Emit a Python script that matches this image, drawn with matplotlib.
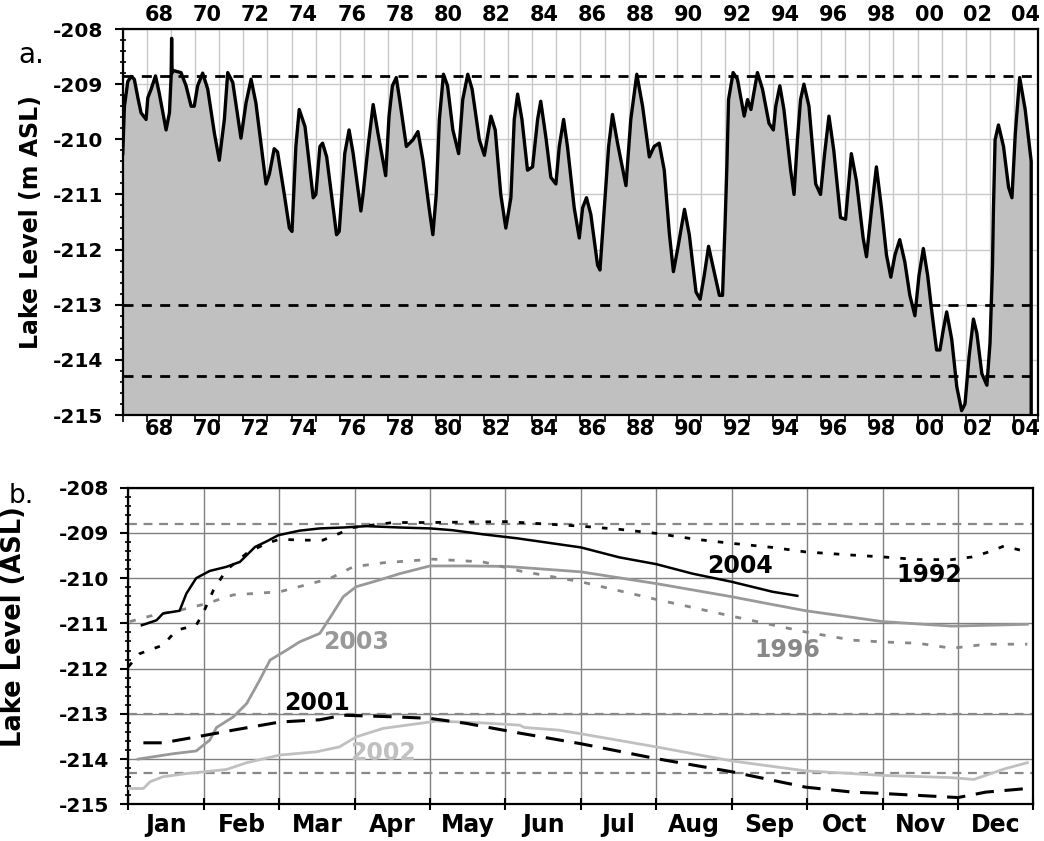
import matplotlib.pyplot as plt
import numpy as np

plt.rcParams['font.family'] = ['DejaVu Sans']
plt.rcParams['font.weight'] = 'bold'
plt.rcParams['axes.labelweight'] = 'bold'
plt.rcParams['axes.unicode_minus'] = False

# ---- panel a: lake level, decimal year vs m ASL
years = [1966.99, 1967.06, 1967.20, 1967.34, 1967.47, 1967.62, 1967.75, 1967.96, 1968.03, 1968.17,
         1968.35, 1968.50, 1968.79, 1968.93, 1969.00, 1969.02, 1969.04, 1969.06, 1969.41, 1969.62,
         1969.83, 1969.96, 1970.10, 1970.31, 1970.52, 1970.80, 1971.00, 1971.21, 1971.35, 1971.56,
         1971.90, 1972.11, 1972.32, 1972.52, 1972.94, 1973.08, 1973.28, 1973.42, 1973.70, 1973.91,
         1974.02, 1974.18, 1974.32, 1974.56, 1974.90, 1975.01, 1975.18, 1975.29, 1975.46, 1975.87,
         1975.98, 1976.21, 1976.39, 1976.56, 1976.88, 1976.97, 1977.18, 1977.39, 1977.59, 1977.91,
         1978.05, 1978.19, 1978.35, 1978.49, 1978.77, 1979.04, 1979.25, 1979.46, 1979.73, 1979.87,
         1980.01, 1980.14, 1980.31, 1980.48, 1980.70, 1980.94, 1981.11, 1981.32, 1981.50, 1981.80,
         1982.01, 1982.28, 1982.46, 1982.69, 1982.90, 1983.11, 1983.25, 1983.39, 1983.57, 1983.80,
         1984.01, 1984.22, 1984.35, 1984.56, 1984.77, 1984.98, 1985.12, 1985.30, 1985.46, 1985.74,
         1985.95, 1986.09, 1986.25, 1986.43, 1986.71, 1986.81, 1986.99, 1987.17, 1987.33, 1987.54,
         1987.89, 1988.09, 1988.34, 1988.58, 1988.86, 1989.06, 1989.27, 1989.48, 1989.69, 1989.86,
         1990.04, 1990.32, 1990.52, 1990.80, 1990.97, 1991.14, 1991.32, 1991.49, 1991.77, 1991.90,
         1992.00, 1992.08, 1992.15, 1992.34, 1992.52, 1992.80, 1992.94, 1993.08, 1993.35, 1993.56,
         1993.83, 1994.01, 1994.11, 1994.28, 1994.45, 1994.73, 1994.87, 1995.01, 1995.14, 1995.28,
         1995.49, 1995.77, 1995.97, 1996.14, 1996.32, 1996.52, 1996.80, 1997.01, 1997.25, 1997.46,
         1997.74, 1997.88, 1998.08, 1998.29, 1998.50, 1998.71, 1998.89, 1999.06, 1999.26, 1999.47,
         1999.68, 1999.89, 2000.06, 2000.24, 2000.42, 2000.58, 2000.79, 2000.93, 2001.07, 2001.21,
         2001.42, 2001.63, 2001.83, 2001.97, 2002.14, 2002.32, 2002.46, 2002.67, 2002.88, 2003.01,
         2003.11, 2003.15, 2003.22, 2003.36, 2003.57, 2003.78, 2003.92, 2004.06, 2004.24, 2004.47,
         2004.68, 2004.72]
level = [-210.26, -209.40, -208.95, -208.86, -208.91, -209.25, -209.52, -209.64, -209.25, -209.09,
         -208.85, -209.15, -209.83, -209.52, -208.85, -208.17, -208.80, -208.75, -208.79, -209.03,
         -209.40, -209.40, -209.03, -208.80, -209.09, -209.90, -210.38, -209.64, -208.79, -208.97,
         -209.98, -209.34, -208.91, -209.34, -210.81, -210.63, -210.17, -210.23, -211.00, -211.61,
         -211.67, -210.13, -209.46, -209.77, -211.06, -211.00, -210.13, -210.07, -210.32, -211.73,
         -211.67, -210.26, -209.83, -210.26, -211.30, -211.00, -210.13, -209.37, -209.89, -210.66,
         -209.58, -209.03, -208.88, -209.28, -210.13, -210.01, -209.86, -210.38, -211.30, -211.73,
         -211.00, -209.64, -208.82, -209.03, -209.83, -210.26, -209.28, -208.82, -209.09, -210.01,
         -210.29, -209.58, -209.83, -211.00, -211.61, -211.06, -209.64, -209.18, -209.64, -210.56,
         -210.50, -209.64, -209.31, -209.95, -210.69, -210.81, -210.13, -209.64, -210.13, -211.24,
         -211.79, -211.24, -211.06, -211.36, -212.28, -212.37, -211.24, -210.13, -209.55, -210.07,
         -210.84, -209.64, -208.82, -209.40, -210.32, -210.13, -210.07, -210.56, -211.70, -212.40,
         -211.98, -211.27, -211.73, -212.77, -212.90, -212.47, -211.94, -212.28, -212.83, -212.83,
         -211.61, -210.50, -209.28, -208.79, -208.91, -209.58, -209.28, -209.46, -208.79, -209.09,
         -209.71, -209.83, -209.40, -209.03, -209.46, -210.56, -211.00, -210.01, -209.28, -209.00,
         -209.40, -210.81, -211.00, -210.26, -209.58, -210.20, -211.42, -211.45, -210.26, -210.75,
         -211.79, -212.13, -211.30, -210.50, -211.24, -212.10, -212.50, -212.10, -211.82, -212.22,
         -212.83, -213.20, -212.47, -211.98, -212.47, -213.08, -213.82, -213.82, -213.45, -213.13,
         -213.63, -214.49, -214.92, -214.80, -213.94, -213.26, -213.51, -214.25, -214.46, -213.69,
         -212.34, -211.30, -210.01, -209.74, -210.13, -210.87, -211.06, -209.89, -208.88, -209.46,
         -210.26, -210.40]

ref_a = [-208.85, -213.0, -214.3]
ref_b = [-208.8, -213.0, -214.3]
year_labels = ['68', '70', '72', '74', '76', '78', '80', '82', '84', '86', '88', '90', '92',
               '94', '96', '98', '00', '02', '04']

# ---- panel b: single years, x = months since 1 Jan
m_2004 = [0.18, 0.375, 0.46, 0.68, 0.77, 0.90, 1.08, 1.30, 1.48, 1.68, 1.83, 1.99, 2.27, 2.54,
          2.85, 3.16, 3.60, 4.0, 4.30, 4.70, 5.16, 6.0, 6.51, 7.0, 7.48, 8.0, 8.54, 8.87]
v_2004 = [-211.04, -210.93, -210.78, -210.72, -210.34, -210.0, -209.84, -209.75, -209.64, -209.31,
          -209.19, -209.05, -208.95, -208.90, -208.88, -208.85, -208.88, -208.90, -208.94, -209.03,
          -209.12, -209.32, -209.54, -209.69, -209.90, -210.08, -210.30, -210.39]

m_1996 = [0.02, 0.33, 0.68, 1.04, 1.39, 2.01, 2.67, 2.98, 3.38, 4.04, 4.70, 5.19, 6.0, 7.0, 8.0,
          8.98, 9.60, 10.0, 10.48, 10.92, 11.37, 11.92]
v_1996 = [-210.96, -210.82, -210.71, -210.56, -210.37, -210.30, -210.01, -209.75, -209.66, -209.58,
          -209.64, -209.84, -210.08, -210.47, -210.84, -211.19, -211.37, -211.41, -211.44, -211.55,
          -211.46, -211.46]

m_2003 = [0.13, 0.60, 0.90, 1.08, 1.17, 1.39, 1.57, 1.74, 1.88, 2.10, 2.27, 2.54, 2.71, 2.85,
          3.02, 3.33, 3.60, 4.0, 4.48, 5.01, 6.0, 7.0, 8.0, 8.50, 8.98, 10.0, 10.92, 11.92]
v_2003 = [-214.0, -213.88, -213.82, -213.58, -213.30, -213.07, -212.77, -212.26, -211.81, -211.59,
          -211.41, -211.22, -210.78, -210.41, -210.19, -210.04, -209.90, -209.73, -209.73, -209.74,
          -209.86, -210.12, -210.41, -210.57, -210.72, -210.96, -211.06, -211.02]

m_1992 = [0.0, 0.15, 0.46, 0.64, 0.90, 0.99, 1.13, 1.30, 1.57, 1.83, 2.01, 2.32, 2.58, 2.80, 2.98,
          3.51, 4.0, 5.01, 6.0, 6.51, 7.0, 7.52, 8.0, 8.54, 8.98, 9.60, 10.0, 10.48, 10.92, 11.19,
          11.41, 11.61, 11.92]
v_1992 = [-211.96, -211.67, -211.48, -211.15, -211.04, -210.78, -210.26, -209.82, -209.45, -209.23,
          -209.14, -209.16, -209.16, -209.01, -208.88, -208.77, -208.77, -208.75, -208.85, -208.92,
          -209.01, -209.14, -209.23, -209.32, -209.42, -209.49, -209.53, -209.59, -209.59, -209.53,
          -209.42, -209.29, -209.42]

m_2001 = [0.2, 0.46, 0.90, 1.39, 2.01, 2.54, 2.85, 3.60, 4.0, 4.48, 5.17, 6.0, 7.0, 8.0, 8.98,
          9.60, 10.0, 11.0, 11.37, 11.92]
v_2001 = [-213.64, -213.64, -213.51, -213.36, -213.18, -213.13, -213.03, -213.07, -213.10, -213.21,
          -213.42, -213.66, -213.99, -214.28, -214.62, -214.73, -214.76, -214.85, -214.73, -214.65]

m_2002 = [0.0, 0.2, 0.29, 0.46, 0.77, 1.30, 1.57, 2.01, 2.49, 2.80, 3.02, 3.38, 4.0, 4.08, 4.70,
          5.19, 5.25, 5.71, 6.0, 7.0, 8.0, 8.98, 10.0, 10.92, 11.21, 11.63, 11.92]
v_2002 = [-214.65, -214.65, -214.50, -214.39, -214.32, -214.23, -214.08, -213.91, -213.84, -213.73,
          -213.51, -213.32, -213.18, -213.16, -213.20, -213.25, -213.30, -213.36, -213.44, -213.73,
          -214.04, -214.26, -214.36, -214.41, -214.45, -214.21, -214.08]

month_names = ['Jan', 'Feb', 'Mar', 'Apr', 'May', 'Jun', 'Jul', 'Aug', 'Sep', 'Oct', 'Nov', 'Dec']

fig = plt.figure(figsize=(10.44, 8.41), dpi=100)

# ---------------- panel a
ax1 = fig.add_axes([0.1178, 0.5065, 0.8764, 0.459])
ax1.set_axisbelow(True)
ax1.fill_between(years, level, -215, color='#c0c0c0', lw=0, zorder=2)
for r in ref_a:
    ax1.axhline(r, color='black', lw=2, dashes=(3.6, 3.0), zorder=3)
ax1.plot(years + [years[-1]], level + [-215], color='black', lw=2.4, zorder=4,
         solid_joinstyle='round')

ax1.set_xlim(1967, 2005)
ax1.set_ylim(-215, -208)
ax1.set_xticks(np.arange(1967, 2006))
ax1.set_xticks(np.arange(1968, 2005, 2) + 0.5, year_labels, minor=True)
ax1.set_yticks(np.arange(-215, -207))
ax1.set_yticks(np.arange(-215, -208, 0.2), minor=True)
ax1.grid(True, which='major', color='#c8c8c8', lw=1)
ax1.tick_params(axis='x', which='major', labelbottom=False, length=5, width=1.2, direction='out')
ax1.tick_params(axis='x', which='minor', length=0, labelbottom=True, labeltop=True,
                labelsize=15, pad=3)
ax1.tick_params(axis='y', which='major', length=6, width=1.5, direction='out', labelsize=14.5, pad=8)
ax1.tick_params(axis='y', which='minor', length=4, width=1.2, direction='inout')
for s in ax1.spines.values():
    s.set_linewidth(1.6)
ax1.set_ylabel('Lake Level (m ASL)', fontsize=17)
ax1.yaxis.set_label_coords(-0.087, 0.5)
fig.text(31 / 1044, 1 - 55 / 841, 'a.', fontsize=20, fontweight='normal', ha='center', va='center')

# ---------------- panel b
ax2 = fig.add_axes([0.1229, 0.0436, 0.8669, 0.3765])
ax2.set_axisbelow(True)
for r in ref_b:
    ax2.axhline(r, color='#888888', lw=1.6, dashes=(4, 3), zorder=2)
ax2.plot(m_2002, v_2002, color='#c0c0c0', lw=2, zorder=3)
ax2.plot(m_2003, v_2003, color='#999999', lw=2, zorder=3)
ax2.plot(m_1996, v_1996, color='#888888', lw=2, dashes=(2.2, 4), zorder=3)
ax2.plot(m_2001, v_2001, color='black', lw=2.2, dashes=(6, 3.5), zorder=4)
ax2.plot(m_1992, v_1992, color='black', lw=2, dashes=(2, 4), zorder=4)
ax2.plot(m_2004, v_2004, color='black', lw=1.8, zorder=5)

lab_kw = dict(fontsize=17, ha='center', va='center', zorder=6)
ax2.text(8.11, -209.73, '2004', color='black', **lab_kw)
ax2.text(10.62, -209.93, '1992', color='black', **lab_kw)
ax2.text(8.74, -211.59, '1996', color='#888888', **lab_kw)
ax2.text(3.02, -211.41, '2003', color='#999999', **lab_kw)
ax2.text(2.50, -212.77, '2001', color='black', **lab_kw)
ax2.text(3.38, -213.87, '2002', color='#c0c0c0', **lab_kw)

ax2.set_xlim(0, 12)
ax2.set_ylim(-215, -208)
ax2.set_xticks(np.arange(0, 13))
ax2.set_xticks(np.arange(12) + 0.5, month_names, minor=True)
ax2.set_yticks(np.arange(-215, -207))
ax2.set_yticks(np.arange(-215, -208, 0.2), minor=True)
ax2.grid(True, which='major', color='#808080', lw=1)
ax2.tick_params(axis='x', which='major', labelbottom=False, length=8, width=1.5, direction='inout')
ax2.tick_params(axis='x', which='minor', length=0, labelsize=17, pad=6)
ax2.tick_params(axis='y', which='major', length=6, width=1.5, direction='out', labelsize=14.5, pad=8)
ax2.tick_params(axis='y', which='minor', length=4, width=1.2, direction='inout')
for s in ax2.spines.values():
    s.set_linewidth(1.6)
ax2.set_ylabel('Lake Level (ASL)', fontsize=18.5)
ax2.yaxis.set_label_coords(-0.112, 0.56)
fig.text(21 / 1044, 1 - 496 / 841, 'b.', fontsize=19, fontweight='normal', ha='center', va='center')

fig.savefig('out.png', dpi=100)
